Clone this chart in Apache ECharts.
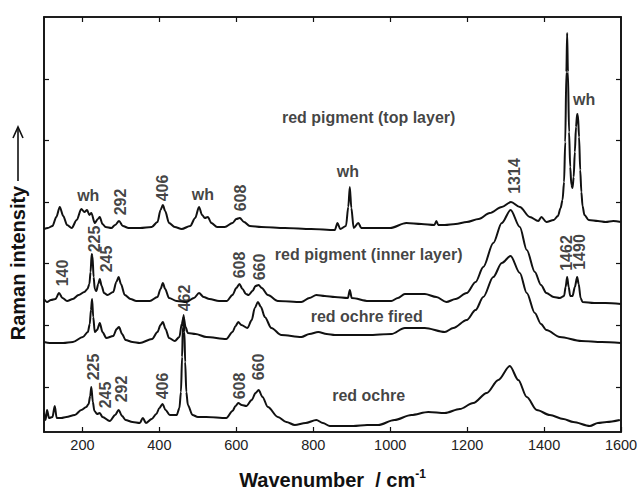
<!DOCTYPE html>
<html><head><meta charset="utf-8">
<script src="https://cdn.jsdelivr.net/npm/echarts@6/dist/echarts.min.js"></script>
<style>html,body{margin:0;padding:0;background:#fff}#c{width:640px;height:490px}</style>
</head><body><div id="c"></div>
<script>
// ---- axis ticks ----
const xTicks = [200, 400, 600, 800, 1000, 1200, 1400, 1600];
const xTopTicks = [200, 400, 600, 800, 1000, 1200, 1400];
const yTicks = [45, 107, 168.5, 230, 291.5, 353];

// ---- spectra: [wavenumber, intensity (a.u., stacked)] ----
const topLayer = [[100,203],[110,204],[122,206],[132,215],[141,225],[150,216],[160,207],[172,204],[185,212],[197,223],[205,220],[212,222],[218,217],[223,219],[232,209],[240,213],[245,215],[252,208],[260,205],[275,204],[285,207],[295,211],[305,206],[320,204],[350,204],[380,205],[395,210],[403,222],[409,227],[415,221],[425,209],[440,205],[458,203],[480,206],[493,214],[503,225],[511,217],[518,214],[526,215],[535,209],[550,205],[570,205],[590,209],[600,213],[609,214],[620,210],[635,206],[665,205],[726,204],[795,203],[856,202],[863,209],[870,203],[885,206],[891,225],[895,245],[899,224],[905,204],[917,209],[925,204],[942,204],[1000,204],[1042,209],[1081,208],[1115,207],[1120,211],[1125,207],[1142,207],[1170,208],[1199,210],[1230,213],[1259,219],[1290,225],[1314,230],[1337,225],[1363,215],[1385,211],[1393,215],[1406,210],[1425,212],[1436,216],[1443,224],[1448,232],[1452,250],[1455,290],[1458,360],[1460,399],[1462,360],[1465,300],[1468,265],[1471,247],[1474,244],[1477,255],[1480,280],[1483,305],[1486,318],[1488,317],[1491,295],[1494,262],[1497,240],[1500,226],[1505,217],[1516,212],[1540,211],[1560,210],[1580,211],[1600,210]];

const innerLayer = [[100,133],[108,130],[118,132],[130,133],[139,139],[148,134],[160,131],[175,133],[190,137],[205,140],[213,143],[218,148],[221,160],[224,178],[226,176],[229,155],[232,143],[236,141],[241,148],[245,153],[250,146],[256,139],[265,137],[280,140],[288,150],[294,155],[300,148],[310,137],[325,133],[340,131],[375,131],[395,135],[403,143],[409,149],[415,143],[425,134],[445,131],[470,130],[490,134],[503,139],[515,135],[530,133],[555,131],[575,131],[590,137],[600,144],[608,148],[616,143],[625,138],[632,137],[642,141],[650,146],[658,147],[666,144],[682,137],[708,131],[769,130],[790,134],[808,137],[830,136],[856,135],[890,134],[895,142],[900,134],[943,131],[1003,131],[1020,134],[1038,138],[1090,138],[1120,135],[1146,130],[1170,133],[1199,139],[1222,150],[1242,165],[1268,189],[1290,209],[1313,222],[1337,205],[1355,182],[1376,160],[1392,147],[1406,139],[1425,135],[1441,134],[1452,136],[1456,145],[1460,155],[1464,145],[1468,136],[1474,136],[1480,145],[1486,155],[1490,148],[1495,134],[1500,130],[1530,129],[1560,129],[1600,128]];

const ochreFired = [[100,90],[115,89],[130,89],[150,89],[175,90],[201,95],[214,100],[219,108],[222,122],[225,133],[228,115],[232,100],[238,102],[245,109],[252,100],[262,94],[280,96],[289,103],[295,105],[303,98],[312,92],[330,90],[349,89],[381,93],[395,100],[403,107],[409,110],[416,103],[425,94],[440,91],[452,95],[458,108],[463,115],[468,105],[474,99],[494,98],[522,95],[574,93],[590,100],[598,106],[605,110],[613,107],[629,104],[640,112],[648,124],[656,130],[664,125],[674,115],[691,104],[717,97],[769,95],[790,98],[813,100],[835,98],[856,97],[943,97],[1003,98],[1038,104],[1090,104],[1142,100],[1164,104],[1199,112],[1222,122],[1242,135],[1268,155],[1290,169],[1313,176],[1337,159],[1355,139],[1376,119],[1392,108],[1406,102],[1441,95],[1497,91],[1550,90],[1600,89]];

const redOchre = [[100,19],[104,12],[108,22],[113,14],[122,15],[128,26],[133,14],[145,14],[158,15],[180,17],[197,22],[210,25],[216,28],[220,36],[223,45],[227,30],[231,21],[238,18],[245,19],[252,15],[271,11],[285,17],[294,22],[303,16],[312,12],[330,10],[349,9],[357,14],[365,9],[380,13],[392,18],[400,24],[408,28],[416,22],[427,17],[445,17],[452,24],[456,40],[459,75],[461,105],[463,117],[465,100],[467,70],[470,40],[474,27],[486,17],[500,15],[522,15],[574,14],[590,21],[598,26],[605,29],[614,27],[626,26],[640,32],[650,39],[658,42],[668,35],[682,25],[708,15],[730,10],[752,7],[780,9],[808,12],[825,9],[843,6],[870,6],[904,6],[940,7],[969,7],[1011,12],[1055,17],[1099,20],[1142,19],[1181,23],[1216,29],[1251,39],[1281,52],[1311,66],[1333,52],[1355,35],[1381,22],[1415,17],[1450,13],[1476,10],[1519,6],[1540,9],[1563,10],[1597,12]];

// ---- annotations: [wavenumber, intensity, text] ----
const traceNames = [[944,315,'red pigment (top layer)'],[944,178,'red pigment (inner layer)'],[939,116,'red ochre fired'],[944,37,'red ochre']];
const whLabels = [[215,237,'wh'],[513,238,'wh'],[890,261,'wh'],[1504,333,'wh']];
const peakLabels = [
  [300,230,'292'],[409,244,'406'],[612,234,'608'],[1322,256,'1314'],
  [149,159,'140'],[231,193,'225'],[263,173,'245'],[609,167,'608'],[661,165,'660'],[1458,179,'1462'],[1491,180,'1490'],
  [466,134,'462'],
  [229,65,'225'],[260,37,'245'],[302,43,'292'],[409,46,'406'],[609,46,'608'],[658,65,'660']
];

const FONT = '"Liberation Sans", Arial, Helvetica, sans-serif';
const ink = '#111';
const X_MIN = 100, X_MAX = 1600, Y_MIN = 0, Y_MAX = 415;

const chart = echarts.init(document.getElementById('c'), null, {renderer: 'svg'});
function mkSeries(d){
  return {type:'line', data:d, showSymbol:false, symbol:'none', smooth:0.3, smoothMonotone:'x',
    lineStyle:{color:ink, width:2}, itemStyle:{color:ink}, silent:true, z:3};
}
function mkLabels(list, rot){
  return {type:'scatter', silent:true, z:6, symbol:'circle', symbolSize:1,
    itemStyle:{color:'rgba(0,0,0,0)'},
    data:list.map(t => ({value:[t[0], t[1]], name:t[2]})),
    label:{show:true, position:'inside', rotate:rot, formatter:p => p.name,
      color:ink, fontSize:16, fontWeight:'bold', fontFamily:FONT, align:'center', verticalAlign:'middle'},
    labelLayout:{hideOverlap:false}};
}
chart.setOption({
  animation:false,
  backgroundColor:'#fff',
  grid:{left:44, right:19, top:17, bottom:58, containLabel:false, outerBoundsMode:'none',
        show:true, borderColor:ink, borderWidth:1.6},
  xAxis:[{
    type:'value', min:X_MIN, max:X_MAX,
    axisLine:{show:true, onZero:false, lineStyle:{color:ink, width:1.6}},
    axisTick:{show:true, inside:true, length:5, customValues:xTicks, lineStyle:{color:ink, width:1.2}},
    axisLabel:{show:true, customValues:xTicks, formatter:v => String(v), color:'#222', fontSize:14.5, fontFamily:FONT, margin:5},
    splitLine:{show:false},
    name:'{a|Wavenumber  / cm}{b|-1}', nameLocation:'middle', nameGap:36,
    nameTextStyle:{rich:{
      a:{fontSize:20, fontWeight:'bold', fontFamily:FONT, color:ink, lineHeight:24},
      b:{fontSize:12, fontWeight:'bold', fontFamily:FONT, color:ink, verticalAlign:'top', lineHeight:24, padding:[0,0,12,0]}
    }}
  },{
    type:'value', min:X_MIN, max:X_MAX, position:'top',
    axisLine:{show:true, onZero:false, lineStyle:{color:ink, width:1.6}},
    axisTick:{show:true, inside:true, length:5, customValues:xTopTicks, lineStyle:{color:ink, width:1.2}},
    axisLabel:{show:false}, splitLine:{show:false}
  }],
  yAxis:[{
    type:'value', min:Y_MIN, max:Y_MAX,
    axisLine:{show:true, onZero:false, lineStyle:{color:ink, width:1.6}},
    axisTick:{show:true, inside:true, length:5, customValues:yTicks, lineStyle:{color:ink, width:1.2}},
    axisLabel:{show:false}, splitLine:{show:false}
  },{
    type:'value', min:Y_MIN, max:Y_MAX, position:'right',
    axisLine:{show:true, onZero:false, lineStyle:{color:ink, width:1.6}},
    axisTick:{show:true, inside:true, length:5, customValues:yTicks, lineStyle:{color:ink, width:1.2}},
    axisLabel:{show:false}, splitLine:{show:false}
  }],
  graphic:[
    {type:'text', x:18, y:263, rotation:Math.PI/2, silent:true,
      style:{text:'Raman intensity', font:'bold 20px '+FONT, fill:ink, align:'center', verticalAlign:'middle', textAlign:'center', textVerticalAlign:'middle'}},
    {type:'polyline', silent:true, shape:{points:[[18,181],[18,127]]}, style:{stroke:ink, lineWidth:1.6, fill:'none'}},
    {type:'polyline', silent:true, shape:{points:[[13,138],[18,127],[23,138]]}, style:{stroke:ink, lineWidth:1.6, fill:'none'}}
  ],
  series:[mkSeries(topLayer), mkSeries(innerLayer), mkSeries(ochreFired), mkSeries(redOchre),
    mkLabels(traceNames, 0), mkLabels(whLabels, 0), mkLabels(peakLabels, 90),
    {type:'line', xAxisIndex:1, yAxisIndex:1, data:[[X_MIN, Y_MIN],[X_MAX, Y_MAX]], showSymbol:false, symbol:'none',
     lineStyle:{color:'rgba(0,0,0,0)', width:0}, silent:true}]
});
</script>
</body></html>
